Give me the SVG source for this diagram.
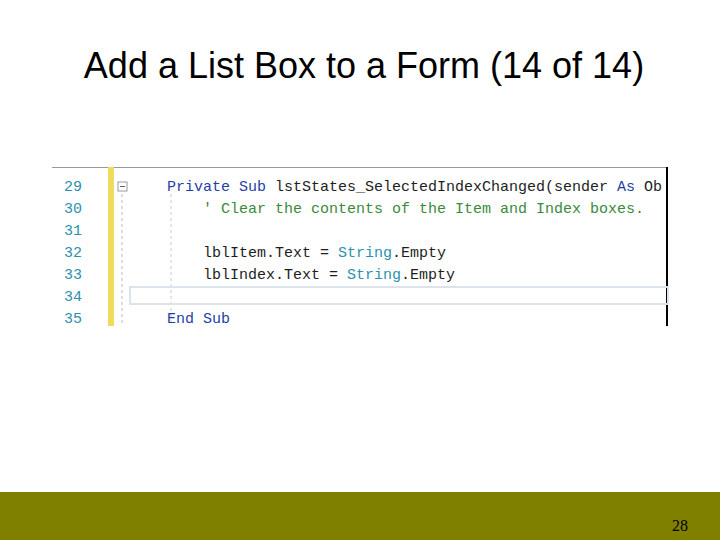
<svg xmlns="http://www.w3.org/2000/svg" width="720" height="540" viewBox="0 0 720 540">
<style>
.ln{font-family:"Liberation Mono",monospace;font-size:15px;fill:#2b91af}
.c{font-family:"Liberation Mono",monospace;font-size:15px;fill:#1e1e1e}
.k{fill:#1f3fa8}.t{fill:#2b91af}.g{fill:#3a8a3a}
</style>
<rect width="720" height="540" fill="#fff"/>
<text x="364" y="78" text-anchor="middle" font-family="Liberation Sans,Arial,sans-serif" font-size="36" fill="#000">Add a List Box to a Form (14 of 14)</text>
<g id="code">
<rect x="52" y="167" width="616" height="159" fill="#fff"/>
<line x1="52" y1="167.5" x2="668" y2="167.5" stroke="#999"/>
<line x1="667" y1="167" x2="667" y2="326" stroke="#000" stroke-width="2"/>
<rect x="108" y="167" width="6" height="159" fill="#f0dc5a"/>
<line x1="122" y1="194" x2="122" y2="326" stroke="#bbb" stroke-dasharray="3,3"/>
<line x1="171" y1="194" x2="171" y2="326" stroke="#ccc" stroke-dasharray="3,3"/>
<rect x="118" y="182" width="9" height="9" fill="#fff" stroke="#999"/>
<line x1="120" y1="186.5" x2="125" y2="186.5" stroke="#666"/>
<rect x="130" y="287" width="538" height="17" fill="none" stroke="#dde3ea" stroke-width="2"/>
<text class="ln" x="64" y="191">29</text>
<text class="ln" x="64" y="213">30</text>
<text class="ln" x="64" y="235">31</text>
<text class="ln" x="64" y="257">32</text>
<text class="ln" x="64" y="279">33</text>
<text class="ln" x="64" y="301">34</text>
<text class="ln" x="64" y="323">35</text>
<text class="c" x="167" y="191"><tspan class="k">Private Sub</tspan> lstStates_SelectedIndexChanged(sender <tspan class="k">As</tspan> Ob</text>
<text class="c g" x="203" y="213">' Clear the contents of the Item and Index boxes.</text>
<text class="c" x="203" y="257">lblItem.Text = <tspan class="t">String</tspan>.Empty</text>
<text class="c" x="203" y="279">lblIndex.Text = <tspan class="t">String</tspan>.Empty</text>
<text class="c k" x="167" y="323">End Sub</text>
</g>
<rect x="0" y="492" width="720" height="48" fill="#808000"/>
<text x="680" y="531" text-anchor="middle" font-family="Liberation Serif,serif" font-size="16" fill="#000">28</text>
</svg>
